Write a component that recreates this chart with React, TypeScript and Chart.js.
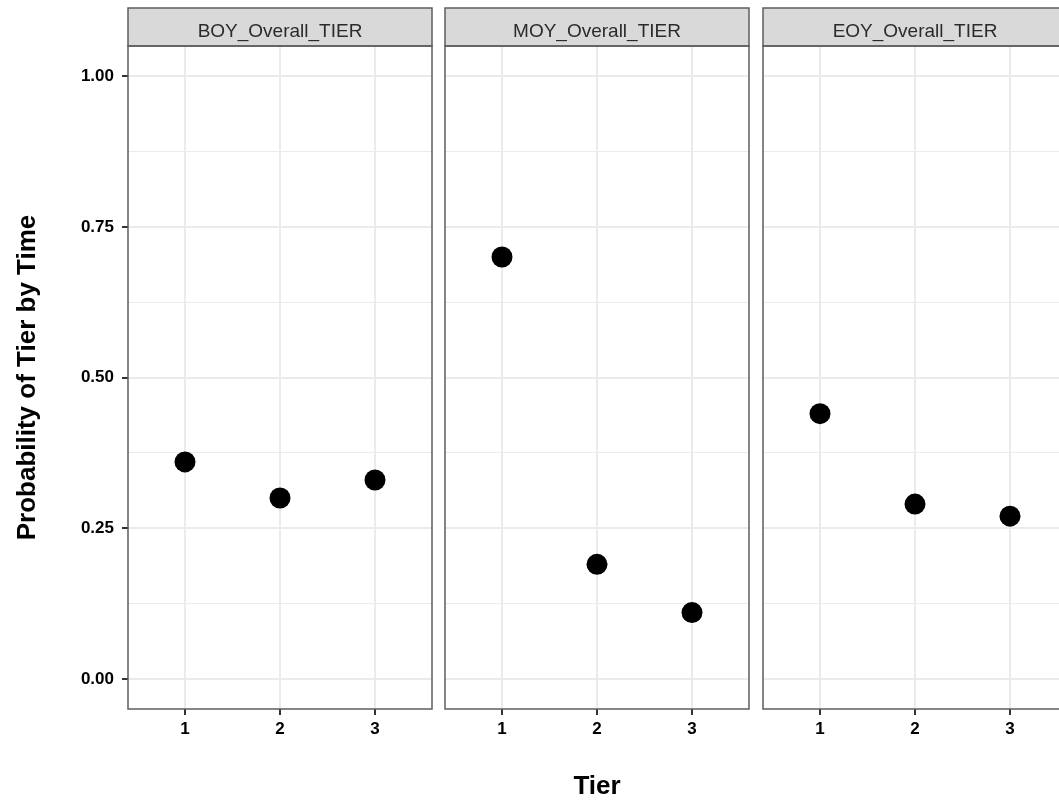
import React, { useEffect, useRef } from 'react';
import { Chart, registerables } from 'chart.js';

Chart.register(...registerables);

const FONT = '"Liberation Sans", Arial, Helvetica, sans-serif';

const panelTitles = ['BOY_Overall_TIER', 'MOY_Overall_TIER', 'EOY_Overall_TIER'];
const tiers = [1, 2, 3];
const xTickLabels = ['1', '2', '3'];
const boyProb = [0.36, 0.3, 0.33];
const moyProb = [0.7, 0.19, 0.11];
const eoyProb = [0.44, 0.29, 0.27];
const panelValues = [boyProb, moyProb, eoyProb];
const yMajorTicks = [0, 0.25, 0.5, 0.75, 1];
const yMinorTicks = [0.125, 0.375, 0.625, 0.875];
const yTickLabels = ['0.00', '0.25', '0.50', '0.75', '1.00'];
const yAxisTitle = 'Probability of Tier by Time';
const xAxisTitle = 'Tier';

const isMajor = (v: number) => yMajorTicks.some((m) => Math.abs(m - v) < 1e-9);

const facetPlugin = {
  id: 'facetStrip',
  afterDraw(chart: any, _args: any, opts: any) {
    const { ctx, chartArea: a } = chart;
    const stripTop = 8;
    ctx.save();
    ctx.fillStyle = '#d9d9d9';
    ctx.fillRect(a.left, stripTop, a.right - a.left, a.top - stripTop);
    ctx.strokeStyle = '#5e5e5e';
    ctx.lineWidth = 1.5;
    ctx.strokeRect(a.left, stripTop, a.right - a.left, a.top - stripTop);
    ctx.strokeRect(a.left, a.top, a.right - a.left, a.bottom - a.top);
    ctx.fillStyle = '#2b2b2b';
    ctx.font = `19px ${FONT}`;
    ctx.textAlign = 'center';
    ctx.textBaseline = 'alphabetic';
    ctx.fillText(opts.title, (a.left + a.right) / 2, 36.5);
    ctx.restore();
  },
};

function makeConfig(i: number, pad: { left: number; right: number }): any {
  const values = panelValues[i];
  return {
    type: 'scatter',
    data: {
      datasets: [
        {
          data: tiers.map((t, j) => ({ x: t, y: values[j] })),
          pointRadius: 10.5,
          pointHoverRadius: 10.5,
          pointBackgroundColor: '#000000',
          pointBorderWidth: 0,
          showLine: false,
        },
      ],
    },
    plugins: [facetPlugin],
    options: {
      responsive: false,
      animation: false,
      events: [],
      layout: {
        autoPadding: false,
        padding: { top: 46, bottom: 0, left: pad.left, right: pad.right },
      },
      plugins: {
        legend: { display: false },
        tooltip: { enabled: false },
        facetStrip: { title: panelTitles[i] },
      },
      scales: {
        x: {
          type: 'linear',
          min: 0.4,
          max: 3.6,
          afterBuildTicks: (s: any) => {
            s.ticks = tiers.map((v) => ({ value: v }));
          },
          afterFit: (s: any) => {
            s.height = 95;
            s.paddingLeft = 0;
            s.paddingRight = 0;
          },
          border: { display: false },
          grid: {
            color: '#ebebeb',
            lineWidth: 2,
            drawTicks: true,
            tickLength: 6,
            tickWidth: 2,
            tickColor: '#333333',
          },
          ticks: {
            padding: 4,
            color: '#000000',
            maxRotation: 0,
            autoSkip: false,
            font: { family: FONT, size: 17, weight: 'bold' },
            callback: (v: number) => {
              const k = tiers.indexOf(v);
              return k >= 0 ? xTickLabels[k] : '';
            },
          },
          title: {
            display: i === 1,
            text: xAxisTitle,
            color: '#000000',
            font: { family: FONT, size: 26, weight: 'bold' },
            padding: { top: 0, bottom: 2 },
          },
        },
        y: {
          type: 'linear',
          min: -0.05,
          max: 1.05,
          afterBuildTicks: (s: any) => {
            s.ticks = [...yMajorTicks, ...yMinorTicks]
              .sort((a, b) => a - b)
              .map((v) => ({ value: v }));
          },
          afterFit: (s: any) => {
            s.width = i === 0 ? 128 : 0;
            s.paddingTop = 0;
            s.paddingBottom = 0;
          },
          border: { display: false },
          grid: {
            color: '#ebebeb',
            lineWidth: (c: any) => (c.tick && isMajor(c.tick.value) ? 2 : 1),
            drawTicks: i === 0,
            tickLength: 6,
            tickWidth: 2,
            tickColor: (c: any) =>
              c.tick && isMajor(c.tick.value) ? '#333333' : 'rgba(0,0,0,0)',
          },
          ticks: {
            display: i === 0,
            padding: 8,
            autoSkip: false,
            color: '#000000',
            font: { family: FONT, size: 17, weight: 'bold' },
            callback: (v: number) => {
              const k = yMajorTicks.findIndex((m) => Math.abs(m - v) < 1e-9);
              return k >= 0 ? yTickLabels[k] : '';
            },
          },
          title: {
            display: i === 0,
            text: yAxisTitle,
            color: '#000000',
            font: { family: FONT, size: 26, weight: 'bold' },
            padding: { top: 12, bottom: 0 },
          },
        },
      },
    },
  };
}

const canvasLayout = [
  { left: 0, width: 441, pad: { left: 0, right: 9 } },
  { left: 441, width: 317, pad: { left: 4, right: 9 } },
  { left: 758, width: 318, pad: { left: 5, right: 9 } },
];

function Panel({ index }: { index: number }) {
  const ref = useRef<HTMLCanvasElement | null>(null);
  const lay = canvasLayout[index];
  useEffect(() => {
    if (!ref.current) return;
    const chart = new Chart(ref.current, makeConfig(index, lay.pad));
    return () => chart.destroy();
  }, [index]);
  return (
    <canvas
      ref={ref}
      width={lay.width}
      height={804}
      style={{ position: 'absolute', left: lay.left, top: 0, width: lay.width, height: 804 }}
    />
  );
}

export default function App() {
  return (
    <div
      style={{
        position: 'absolute',
        left: 0,
        top: 0,
        width: 1059,
        height: 804,
        overflow: 'hidden',
        background: '#ffffff',
      }}
    >
      {panelTitles.map((_, i) => (
        <Panel key={i} index={i} />
      ))}
    </div>
  );
}
